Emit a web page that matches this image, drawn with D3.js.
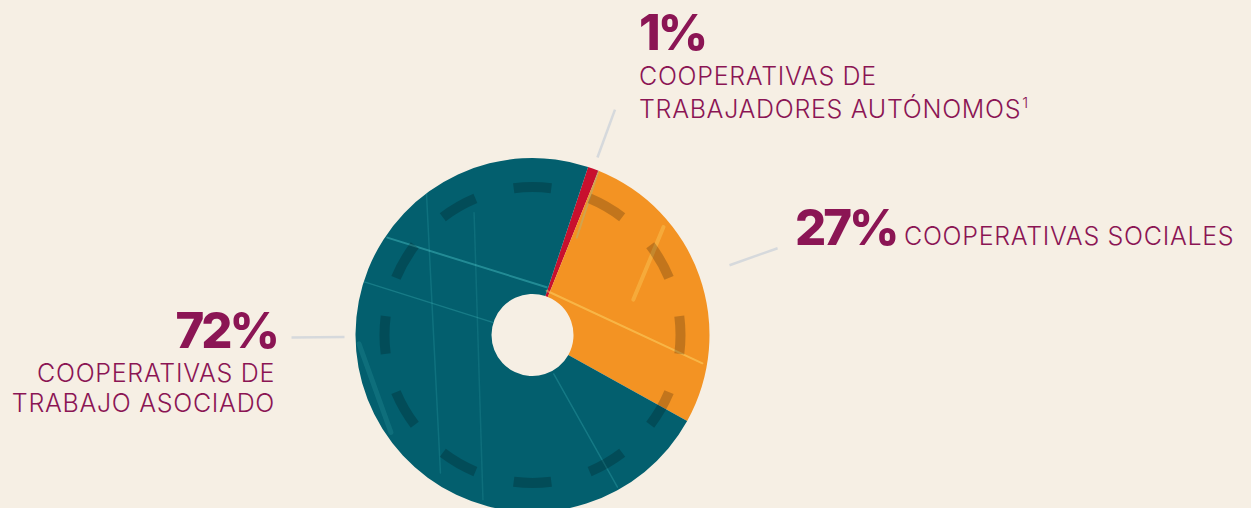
<!DOCTYPE html>
<html>
<meta charset="utf-8">
<head>
<script src="https://cdn.jsdelivr.net/npm/d3@7"></script>
<style>
  body { margin: 0; background: #f6efe4; overflow: hidden; }
  .pct { font-family: Inter, sans-serif; font-weight: 800; font-size: 49px; letter-spacing: -3px; fill: #8b1554; }
  .lbl { font-family: Inter, sans-serif; font-weight: 350; font-size: 25px; letter-spacing: 0.7px; fill: #8b1554; }
</style>
</head>
<body>
<div id="chart"></div>
<script>
// data
var categories = ["Cooperativas de trabajadores autónomos", "Cooperativas sociales", "Cooperativas de trabajo asociado"];
var shares = [1, 27, 72];
var pctLabels = ["1%", "27%", "72%"];
var nameLines = [
  ["COOPERATIVAS DE", "TRABAJADORES AUTÓNOMOS"],
  ["COOPERATIVAS SOCIALES"],
  ["COOPERATIVAS DE", "TRABAJO ASOCIADO"]
];
var sliceColors = ["#c8102e", "#f39323", "#035f6e"];

var width = 1251, height = 508;
var cx = 532.5, cy = 335, outerR = 177, innerR = 41;
var start = 18.3 * Math.PI / 180;

var svg = d3.select("#chart").append("svg")
    .attr("width", width)
    .attr("height", height);

var pie = d3.pie().sort(null).startAngle(start).endAngle(start + 2 * Math.PI);
var arcs = pie(shares);
var arc = d3.arc().innerRadius(innerR).outerRadius(outerR);

// clip for the worn texture
svg.append("clipPath").attr("id", "donut")
  .append("path")
    .attr("d", arc({startAngle: 0, endAngle: 2 * Math.PI}));

var center = "translate(" + cx + "," + cy + ")";

// slices
svg.append("g").attr("transform", center)
  .selectAll("path")
  .data(arcs)
  .enter().append("path")
    .attr("d", arc)
    .attr("fill", function(d, i) { return sliceColors[i]; });

// scratches (decoration, in units of the outer radius)
var scratches = [
  [-0.82, -0.55, 0.08, -0.27, "#5fe0e0", 0.35, 2],
  [-0.95, -0.30, -0.22, -0.07, "#5fe0e0", 0.22, 1.5],
  [-0.60, -0.82, -0.52, 0.78, "#5fe0e0", 0.14, 1.5],
  [-0.33, -0.69, -0.28, 0.93, "#5fe0e0", 0.12, 1.5],
  [0.12, 0.22, 0.48, 0.86, "#5fe0e0", 0.2, 1.5],
  [0.08, -0.25, 0.96, 0.16, "#ffe070", 0.45, 2],
  [0.74, -0.61, 0.57, -0.20, "#ffe070", 0.3, 4],
  [0.38, -0.95, 0.25, -0.55, "#5fe0e0", 0.22, 2],
  [-0.98, 0.05, -0.80, 0.55, "#5fe0e0", 0.12, 5]
];
svg.append("g").attr("transform", center)
  .append("g").attr("clip-path", "url(#donut)")
  .selectAll("line")
  .data(scratches)
  .enter().append("line")
    .attr("x1", function(d) { return d[0] * outerR; })
    .attr("y1", function(d) { return d[1] * outerR; })
    .attr("x2", function(d) { return d[2] * outerR; })
    .attr("y2", function(d) { return d[3] * outerR; })
    .attr("stroke", function(d) { return d[4]; })
    .attr("stroke-opacity", function(d) { return d[5]; })
    .attr("stroke-width", function(d) { return d[6]; })
    .attr("stroke-linecap", "round");

// dashed ring
var dashArc = d3.arc().innerRadius(143).outerRadius(153);
var half = 7.3 * Math.PI / 180;
svg.append("g").attr("transform", center)
  .selectAll("path")
  .data(d3.range(12))
  .enter().append("path")
    .attr("d", function(i) {
      var a = i * Math.PI / 6;
      return dashArc({startAngle: a - half, endAngle: a + half});
    })
    .attr("fill", "rgba(0,0,0,0.2)");

// leader lines
var leader = [
  {angle: (arcs[0].startAngle + arcs[0].endAngle) / 2, r0: 189, r1: 240},
  {angle: (arcs[1].startAngle + arcs[1].endAngle) / 2, r0: 209, r1: 260},
  {angle: 1.5 * Math.PI - 0.01, r0: 188, r1: 241}
];
svg.append("g").attr("transform", center)
  .selectAll("line")
  .data(leader)
  .enter().append("line")
    .attr("x1", function(d) { return d.r0 * Math.sin(d.angle); })
    .attr("y1", function(d) { return -d.r0 * Math.cos(d.angle); })
    .attr("x2", function(d) { return d.r1 * Math.sin(d.angle); })
    .attr("y2", function(d) { return -d.r1 * Math.cos(d.angle); })
    .attr("stroke", "#d6d9dc")
    .attr("stroke-width", 2.5);

// labels
var lab0 = svg.append("g");
lab0.append("text").attr("class", "pct").attr("x", 639).attr("y", 50).text(pctLabels[0]);
lab0.append("text").attr("class", "lbl").attr("x", 639).attr("y", 84.5).text(nameLines[0][0]);
var t = lab0.append("text").attr("class", "lbl").attr("x", 639).attr("y", 118).text(nameLines[0][1]);
t.append("tspan").attr("dy", -10).attr("dx", 1).attr("font-size", 15).text("1");

var lab1 = svg.append("g");
lab1.append("text").attr("class", "pct").attr("x", 795).attr("y", 245).text(pctLabels[1]);
lab1.append("text").attr("class", "lbl").attr("x", 904).attr("y", 245).text(nameLines[1][0]);

var lab2 = svg.append("g").attr("text-anchor", "end");
lab2.append("text").attr("class", "pct").attr("x", 277).attr("y", 348).text(pctLabels[2]);
lab2.append("text").attr("class", "lbl").attr("x", 275).attr("y", 382).text(nameLines[2][0]);
lab2.append("text").attr("class", "lbl").attr("x", 275).attr("y", 411.5).text(nameLines[2][1]);
</script>
</body>
</html>
